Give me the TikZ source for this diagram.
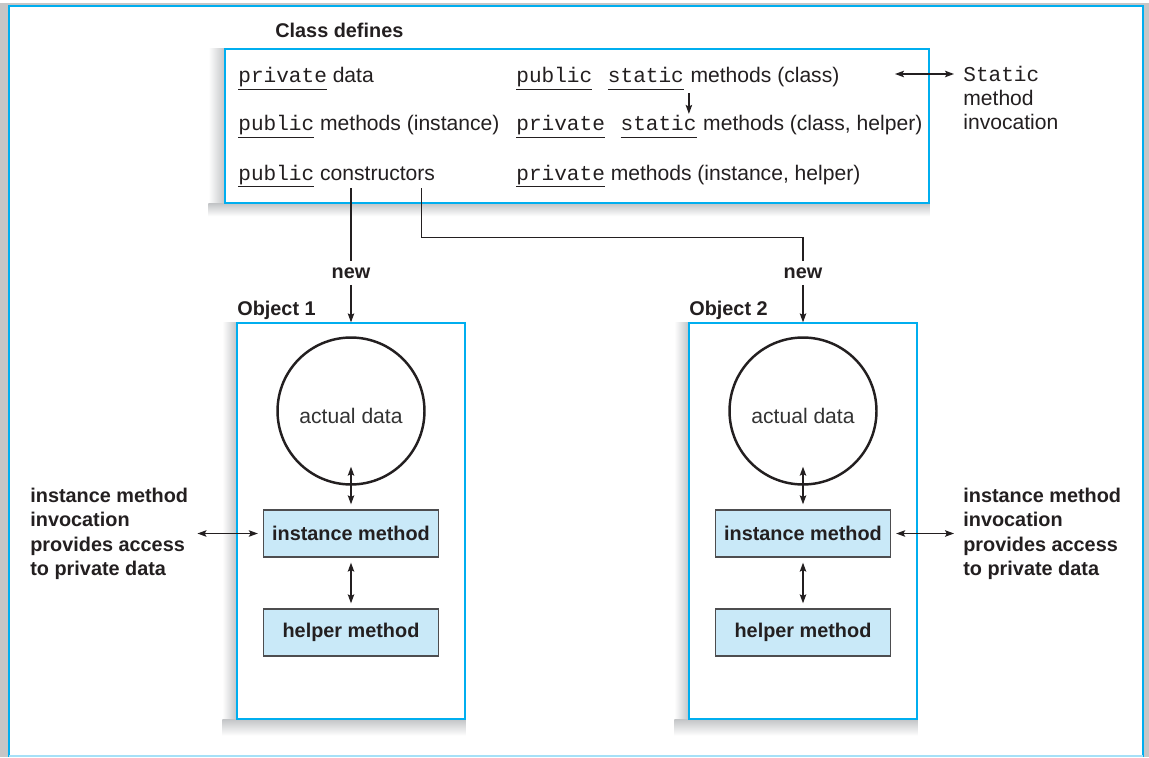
\documentclass[tikz,border=0pt]{standalone}
\usepackage{fontspec}
\setmainfont{Liberation Sans}
\setsansfont{Liberation Sans}
\setmonofont{Liberation Mono}
\usepackage{xcolor}
\usepackage{tikz}
\usetikzlibrary{arrows.meta,positioning,backgrounds}
\definecolor{framecyan}{HTML}{00AEEF}
\definecolor{framelight}{HTML}{A6E0F7}
\definecolor{methfill}{HTML}{C9E9F8}
\definecolor{methline}{HTML}{4D4D4F}
\definecolor{shadowgray}{HTML}{C4C6C8}
\definecolor{inkdark}{HTML}{231F20}
\newcommand{\kw}[1]{\underline{\texttt{#1}\vphantom{p}}}
\newcommand{\lblfont}{\bfseries\fontsize{11.3}{13.9}\selectfont}

\begin{document}
\begin{tikzpicture}[x=0.02cm,y=-0.02cm,>={Stealth[length=1.8mm,width=1.3mm,inset=0.35mm]},font=\fontsize{12}{14}\selectfont,color=inkdark]

\tikzset{
cbox/.style={
    draw=framecyan,
    line width=0.8pt,
    fill=white,
    minimum width=140.8mm,
    minimum height=30.8mm,
    inner sep=0
},
obj/.style={
    draw=framecyan,
    line width=0.8pt,
    fill=white,
    minimum width=45.6mm,
    minimum height=79.2mm,
    inner sep=0
},
dat/.style={
    circle,
    draw=inkdark,
    line width=1.4pt,
    minimum size=29.4mm,
    inner sep=0,
    text height=14.4pt,
    text depth=0pt,
    text=black!80
},
meth/.style={
    draw=methline,
    line width=0.8pt,
    fill=methfill,
    minimum width=35mm,
    minimum height=9.4mm,
    font=\lblfont
},
txt/.style={anchor=base west,inner sep=0},
lbl/.style={align=left,inner sep=0.8mm,font=\lblfont},
newlbl/.style={inner sep=1.2mm,font=\lblfont},
ln/.style={line width=0.7pt},
a/.style={->,line width=0.7pt},
aa/.style={<->,line width=0.7pt,shorten <=1mm,shorten >=1mm},
shadeleft/.style={left color=white,right color=shadowgray},
shadebelow/.style={top color=shadowgray,bottom color=white}
}

\useasboundingbox (0,0) rectangle (1149,757);

\node[cbox] (cls) at (577,126) {};
\node[txt,font=\lblfont] (clsttl) at (275,38) {Class defines};

\node[txt] (r1a) at (238,83) {\kw{private} data};
\node[txt] (r1b) at (516,83) {\kw{public}};
\node[txt,base right=3mm of r1b] (st1) {\kw{static}};
\node[txt,base right=1.2mm of st1] (r1c) {methods (class)};

\node[txt] (r2a) at (238,131) {\kw{public} methods (instance)};
\node[txt] (r2b) at (516,131) {\kw{private}};
\node[txt,base right=3mm of r2b] (st2) {\kw{static}};
\node[txt,base right=1.2mm of st2] (r2c) {methods (class, helper)};

\node[txt] (r3a) at (238,180) {\kw{public} constructors};
\node[txt] (r3b) at (516,180) {\kw{private} methods (instance, helper)};

\node[anchor=west,align=left,inner sep=0.8mm,font=\fontsize{12}{13.4}\selectfont] (sinv) at (959,98) {\texttt{Static}\\method\\invocation};
\coordinate (sarr) at (890,74);

\node[obj] (obj1) at (351,521) {};
\node[obj] (obj2) at (803,521) {};
\node[txt,font=\lblfont] (o1ttl) at (237,315) {Object 1};
\node[txt,font=\lblfont] (o2ttl) at (689,315) {Object 2};

\node[dat] (dat1) at (351,411) {actual data};
\node[dat] (dat2) at (803,411) {actual data};
\node[meth] (inst1) at (351,533.5) {instance method};
\node[meth] (inst2) at (803,533.5) {instance method};
\node[meth] (help1) at (351,632.5) {helper method};
\node[meth] (help2) at (803,632.5) {helper method};

\node[lbl,anchor=west] (inv1) at (26,534) {instance method\\invocation\\provides access\\to private data};
\node[lbl,anchor=west] (inv2) at (959,534) {instance method\\invocation\\provides access\\to private data};

\node[newlbl] (new1) at (351,273) {new};
\node[newlbl] (new2) at (803,273) {new};

\coordinate (stx) at ([xshift=-1.6mm]st2.north east);
\draw[a,shorten <=0.4mm,shorten >=0.3mm] (stx |- st1.south) -- (stx);
\draw[aa] (sarr) -- (sarr -| sinv.west);

\draw[ln] (obj1.north |- r3a.south) -- (new1);
\draw[a] (new1) -- (obj1);
\coordinate (ctr2) at ([xshift=-2.8mm]r3a.south east);
\draw[ln] (ctr2) |- ([yshift=4.8mm]new2.north) -- (new2);
\draw[a] (new2) -- (obj2);

\draw[aa] ([yshift=4.8mm]dat1.south) -- (inst1);
\draw[aa] ([yshift=4.8mm]dat2.south) -- (inst2);
\draw[aa] (inst1) -- (help1);
\draw[aa] (inst2) -- (help2);
\draw[aa] (inv1.east |- inst1.west) -- (inst1.west);
\draw[aa] (inst2.east) -- (inv2.west |- inst2.east);

\begin{scope}[on background layer]
\fill[gray!45] (0,3) rectangle (1149,757);
\filldraw[fill=white,draw=framecyan,line width=0.8pt] (9,6) rectangle (1143,756);
\draw[framelight,line width=0.8pt] (9,756) -- (1143,756);
\shade[shadeleft] ([xshift=-3.2mm]cls.north west) rectangle (cls.south west);
\shade[shadebelow] ([xshift=-3.2mm]cls.south west) rectangle ([yshift=-2.5mm]cls.south east);
\shade[shadeleft] ([xshift=-2.8mm]obj1.north west) rectangle (obj1.south west);
\shade[shadebelow] ([xshift=-2.8mm]obj1.south west) rectangle ([yshift=-3.2mm]obj1.south east);
\shade[shadeleft] ([xshift=-2.8mm]obj2.north west) rectangle (obj2.south west);
\shade[shadebelow] ([xshift=-2.8mm]obj2.south west) rectangle ([yshift=-3.2mm]obj2.south east);
\end{scope}

\end{tikzpicture}
\end{document}
